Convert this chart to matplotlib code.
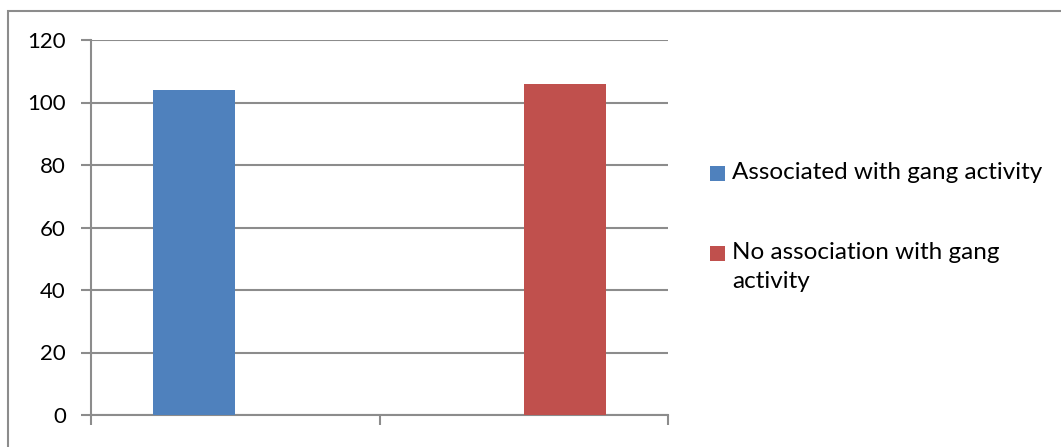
import matplotlib.pyplot as plt
from matplotlib.patches import Rectangle

W, H = 1061, 447

categories = ['', '']
series_names = ['Associated with gang activity', 'No association with gang\nactivity']
series_values = [[104, 0], [0, 106]]
series_colors = ['#4F81BD', '#C0504D']
y_ticks = [0, 20, 40, 60, 80, 100, 120]

plt.rcParams['font.family'] = ['Lato', 'DejaVu Sans']

fig = plt.figure(figsize=(W / 100, H / 100), dpi=100)

# outer chart frame (right/bottom run off the page)
fig.patches.append(Rectangle((8 / W, -0.1), 1.2, 1 - 11 / H + 0.1,
                             transform=fig.transFigure, fill=False,
                             edgecolor='#8c8c8c', linewidth=1.5))

ax = fig.add_axes([91 / W, 1 - 415 / H, (668 - 91) / W, (415 - 40) / H])

n = len(series_values)
width = 1 / (n + 1.5)  # gap width 150%
x = list(range(len(categories)))
for i, (vals, name, col) in enumerate(zip(series_values, series_names, series_colors)):
    off = (i - (n - 1) / 2) * width
    ax.bar([xi + off for xi in x], vals, width, color=col, label=name, zorder=3)

ax.set_xlim(-0.5, len(categories) - 0.5)
ax.set_ylim(0, 120)
ax.set_yticks(y_ticks)
ax.set_xticks([-0.5 + k for k in range(len(categories) + 1)])
ax.set_xticklabels([])
ax.yaxis.grid(True, color='#8c8c8c', linewidth=1.5, zorder=0)
ax.tick_params(axis='y', length=7, width=1.5, color='#8c8c8c', labelsize=16, pad=11)
ax.tick_params(axis='x', length=7, width=1.5, color='#8c8c8c')
for s in ['top', 'right']:
    ax.spines[s].set_visible(False)
for s in ['left', 'bottom']:
    ax.spines[s].set_color('#8c8c8c')
    ax.spines[s].set_linewidth(1.5)

# legend: square aligned with first text line, as in an Excel chart
entry_tops = [166, 246]
for name, col, top in zip(series_names, series_colors, entry_tops):
    fig.patches.append(Rectangle((710 / W, 1 - (top + 15) / H), 15 / W, 15 / H,
                                 transform=fig.transFigure, facecolor=col,
                                 edgecolor='none'))
    fig.text(732 / W, 1 - (top - 4) / H, name, fontsize=17.5, va='top', ha='left',
             linespacing=1.45, color='#000000')

fig.savefig('out.png', dpi=100)
